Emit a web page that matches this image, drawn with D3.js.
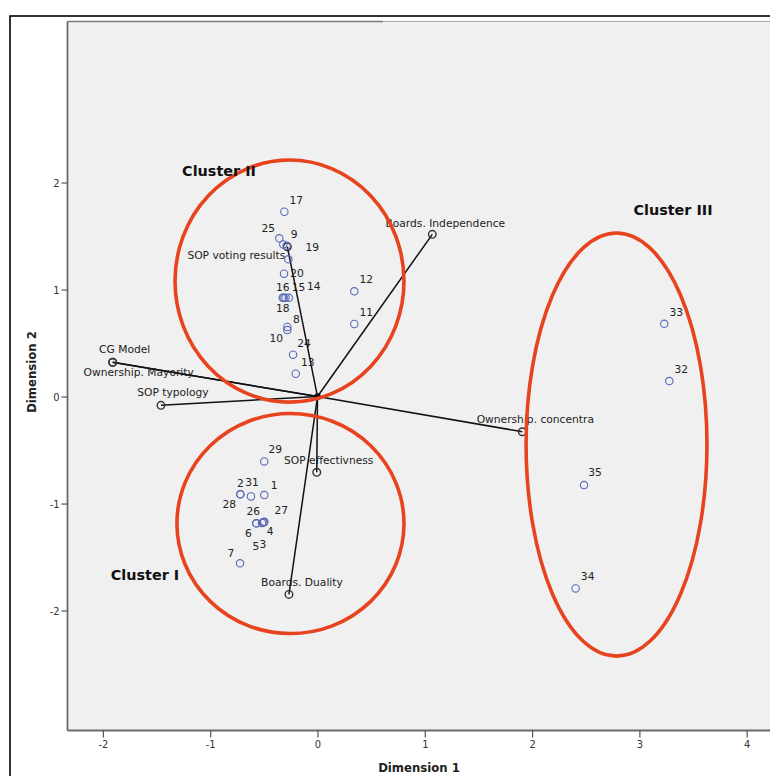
<!DOCTYPE html>
<html><head><meta charset="utf-8">
<script src="https://cdn.jsdelivr.net/npm/d3@7"></script>
<style>
html,body{margin:0;padding:0;background:#fff;}
svg text{font-family:"DejaVu Sans",Verdana,sans-serif;}
</style></head>
<body>
<svg id="chart" width="770" height="776"></svg>
<script>
// ---- data ----
const objIds = ["17","25","9","21","19","20","16","18","15","14","8","10","24","13","12","11",
  "29","2","28","31","1","26","6","27","4","5","3","7","33","32","35","34"];
const objX = [-0.309,-0.356,-0.319,-0.287,-0.272,-0.312,-0.324,-0.315,-0.298,-0.268,-0.281,-0.281,-0.228,-0.203,0.343,0.343,
  -0.496,-0.719,-0.719,-0.620,-0.496,-0.570,-0.570,-0.505,-0.496,-0.517,-0.499,-0.722,3.232,3.279,2.484,2.406];
const objY = [1.727,1.479,1.422,1.409,1.282,1.148,0.923,0.923,0.923,0.923,0.650,0.621,0.391,0.213,0.983,0.678,
  -0.606,-0.914,-0.914,-0.933,-0.921,-1.185,-1.185,-1.176,-1.170,-1.182,-1.173,-1.559,0.680,0.145,-0.827,-1.793];
const objShowLabel = objIds.map(d => d !== "21");
const objLabelDx = [12,-11,11,0,24,13,0,-1,13,25,9,-11,11,12,12,12, 11,0,-11,1,10,-3,-8,18,6,-6,-1,-9,12,12,11,12];
const objLabelDy = [-11,-9,-9,0,-11,0,-10,11,-10,-11,-7,9,-11,-11,-11,-11, -11,-10,11,-13,-9,-11,11,-11,10,24,23,-9,-11,-11,-12,-11];

const varNames = ["Boards. Independence","Ownership. concentra","CG Model","Ownership. Mayority","SOP typology",
  "SOP voting results","SOP effectivness","Boards. Duality"];
const varX = [1.070,1.909,-1.909,-1.909,-1.459,-0.281,-0.007,-0.266];
const varY = [1.516,-0.329,0.320,0.320,-0.082,1.400,-0.708,-1.849];
const varLabelDx = [13,13,12,26,12,-51,12,13];
const varLabelDy = [-10,-12,-12,11,-12,9,-11,-11];

const clusterNames = ["Cluster II","Cluster I","Cluster III"];
const clusterCx = [-0.261,-0.252,2.787];
const clusterCy = [1.079,-1.187,-0.449];
const clusterRx = [1.067,1.058,0.843];
const clusterRy = [1.131,1.028,1.977];
const clusterLabelX = [-0.918,-1.608,3.313];
const clusterLabelY = [2.098,-1.678,1.734];

const xTicks = [-2,-1,0,1,2,3,4];
const yTicks = [-2,-1,0,1,2];

// ---- layout ----
const svg = d3.select("#chart");
const L = 67.5, T = 21.5, B = 730.5, R = 772;
const x = d3.scaleLinear().domain([-2.33, 4.236]).range([L, R]);
const y = d3.scaleLinear().domain([-3.121, 3.505]).range([B, T]);

// outer frame
svg.append("rect").attr("x",10).attr("y",16).attr("width",800).attr("height",800)
  .attr("fill","#fff").attr("stroke","#000").attr("stroke-width",1.6);

// plot background
svg.append("rect").attr("x",L).attr("y",T).attr("width",R-L).attr("height",B-T)
  .attr("fill","#f0f0f0");
svg.append("line").attr("x1",L).attr("x2",383).attr("y1",T).attr("y2",T)
  .attr("stroke","#7a7a7a").attr("stroke-width",1.5);
svg.append("line").attr("x1",383).attr("x2",R).attr("y1",T).attr("y2",T)
  .attr("stroke","#a8a8a8").attr("stroke-width",1);

// axes
const fmt = d => String(d);
const xAxis = d3.axisBottom(x).tickValues(xTicks).tickSize(7).tickPadding(3).tickFormat(fmt);
const yAxis = d3.axisLeft(y).tickValues(yTicks).tickSize(6).tickPadding(2).tickFormat(fmt);
const gx = svg.append("g").attr("transform",`translate(0,${B})`).call(xAxis);
const gy = svg.append("g").attr("transform",`translate(${L},0)`).call(yAxis);
[gx,gy].forEach(g=>{
  g.select(".domain").attr("stroke","#6a6a6a").attr("stroke-width",1.8);
  g.selectAll(".tick line").attr("stroke","#555").attr("stroke-width",1.2);
  g.selectAll(".tick text").attr("fill","#333").style("font-family","'DejaVu Sans Condensed','DejaVu Sans',sans-serif")
    .style("font-size","11px");
});
gx.select(".domain").attr("d",`M${L},0H${R}`);
gy.select(".domain").attr("d",`M0,${B}V${T}`);

svg.append("text").attr("x",419).attr("y",772).attr("text-anchor","middle")
  .style("font-family","'DejaVu Sans Condensed','DejaVu Sans',sans-serif").style("font-weight","bold")
  .style("font-size","13px").attr("fill","#222").text("Dimension 1");
svg.append("text").attr("transform",`translate(36,372) rotate(-90)`).attr("text-anchor","middle")
  .style("font-family","'DejaVu Sans Condensed','DejaVu Sans',sans-serif").style("font-weight","bold")
  .style("font-size","13px").attr("fill","#222").text("Dimension 2");

// variable vectors
const vars = varNames.map((n,i)=>({n,x:varX[i],y:varY[i],dx:varLabelDx[i],dy:varLabelDy[i]}));
svg.append("g").selectAll("line").data(vars).join("line")
  .attr("x1",x(0)).attr("y1",y(0)).attr("x2",d=>x(d.x)).attr("y2",d=>y(d.y))
  .attr("stroke","#111").attr("stroke-width",1.5);
svg.append("g").selectAll("circle").data(vars).join("circle")
  .attr("cx",d=>x(d.x)).attr("cy",d=>y(d.y)).attr("r",3.8)
  .attr("fill","none").attr("stroke","#333").attr("stroke-width",1.4);
svg.append("circle").attr("cx",x(0)).attr("cy",y(0)).attr("r",3.4).attr("fill","#111");
svg.append("g").selectAll("text").data(vars).join("text")
  .attr("x",d=>x(d.x)+d.dx).attr("y",d=>y(d.y)+d.dy).attr("text-anchor","middle")
  .attr("dominant-baseline","middle").style("font-size","10.7px").attr("fill","#222").text(d=>d.n);

// object points
const objs = objIds.map((id,i)=>({id,x:objX[i],y:objY[i],dx:objLabelDx[i],dy:objLabelDy[i],show:objShowLabel[i]}));
svg.append("g").selectAll("circle").data(objs).join("circle")
  .attr("cx",d=>x(d.x)).attr("cy",d=>y(d.y)).attr("r",3.7)
  .attr("fill","none").attr("stroke","#5a68b8").attr("stroke-width",1.1);
svg.append("g").selectAll("text").data(objs.filter(d=>d.show)).join("text")
  .attr("x",d=>x(d.x)+d.dx).attr("y",d=>y(d.y)+d.dy).attr("text-anchor","middle")
  .attr("dominant-baseline","middle").style("font-size","10.7px").attr("fill","#222").text(d=>d.id);

// cluster ellipses
const clusters = clusterNames.map((n,i)=>({n,cx:clusterCx[i],cy:clusterCy[i],rx:clusterRx[i],ry:clusterRy[i],lx:clusterLabelX[i],ly:clusterLabelY[i]}));
svg.append("g").selectAll("ellipse").data(clusters).join("ellipse")
  .attr("cx",d=>x(d.cx)).attr("cy",d=>y(d.cy))
  .attr("rx",d=>x(d.cx+d.rx)-x(d.cx)).attr("ry",d=>y(d.cy-d.ry)-y(d.cy))
  .attr("fill","none").attr("stroke","#e8431f").attr("stroke-width",3.6);
svg.append("g").selectAll("text").data(clusters).join("text")
  .attr("x",d=>x(d.lx)).attr("y",d=>y(d.ly)).attr("text-anchor","middle").attr("dominant-baseline","middle")
  .style("font-weight","bold").style("font-size","14.4px").attr("fill","#111").text(d=>d.n);
</script>
</body></html>
